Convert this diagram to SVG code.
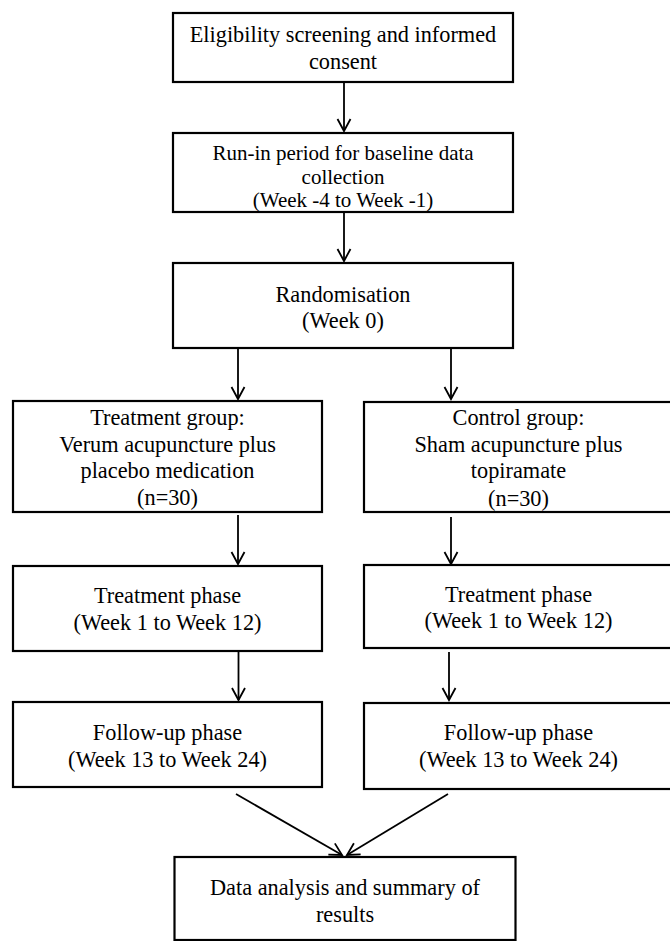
<svg xmlns="http://www.w3.org/2000/svg" width="670" height="941" viewBox="0 0 670 941">
<style>
.box{fill:#fff;stroke:#000;stroke-width:2.2}
.t{font-family:"Liberation Serif","Times New Roman","DejaVu Serif",serif;font-size:22.3px;fill:#000;text-anchor:middle}
.s{font-size:21px}
.c{stroke:#000;stroke-width:1.8;fill:none}
</style>
<defs>
<marker id="ah" viewBox="-14 -8 16 16" refX="0" refY="0" markerWidth="16" markerHeight="16" markerUnits="userSpaceOnUse" orient="auto">
<path d="M-12,-6.5 L0,0 L-12,6.5" fill="none" stroke="#000" stroke-width="1.8"/>
</marker>
</defs>
<rect width="670" height="941" fill="#fff"/>
<g id="connectors">
<line class="c" x1="344" y1="82" x2="344" y2="131" marker-end="url(#ah)"/>
<line class="c" x1="344" y1="212" x2="344" y2="261" marker-end="url(#ah)"/>
<line class="c" x1="238" y1="348" x2="238" y2="399" marker-end="url(#ah)"/>
<line class="c" x1="451" y1="348" x2="451" y2="399" marker-end="url(#ah)"/>
<line class="c" x1="238" y1="515" x2="238" y2="564" marker-end="url(#ah)"/>
<line class="c" x1="451" y1="517" x2="451" y2="564" marker-end="url(#ah)"/>
<line class="c" x1="238.5" y1="651" x2="238.5" y2="700" marker-end="url(#ah)"/>
<line class="c" x1="449" y1="652" x2="449" y2="700" marker-end="url(#ah)"/>
<line class="c" x1="236" y1="794" x2="342" y2="855" marker-end="url(#ah)"/>
<line class="c" x1="448" y1="794" x2="347" y2="855" marker-end="url(#ah)"/>
</g>
<g id="n1">
<rect class="box" x="173" y="13" width="340" height="69"/>
<text class="t" x="343" y="42">Eligibility screening and informed</text>
<text class="t" x="343" y="69">consent</text>
</g>
<g id="n2">
<rect class="box" x="173" y="133" width="340" height="79"/>
<text class="t s" x="343" y="160">Run-in period for baseline data</text>
<text class="t s" x="343" y="183.5">collection</text>
<text class="t s" x="343" y="207">(Week -4 to Week -1)</text>
</g>
<g id="n3">
<rect class="box" x="173" y="263" width="340" height="85"/>
<text class="t" x="343" y="302">Randomisation</text>
<text class="t" x="343" y="328">(Week 0)</text>
</g>
<g id="n4">
<rect class="box" x="13" y="401" width="309" height="111"/>
<text class="t" x="167.5" y="425">Treatment group:</text>
<text class="t" x="167.5" y="452">Verum acupuncture plus</text>
<text class="t" x="167.5" y="478">placebo medication</text>
<text class="t" x="167.5" y="505">(n=30)</text>
</g>
<g id="n5">
<rect class="box" x="364" y="402" width="310" height="110"/>
<text class="t" x="518.5" y="425">Control group:</text>
<text class="t" x="518.5" y="452">Sham acupuncture plus</text>
<text class="t" x="518.5" y="478">topiramate</text>
<text class="t" x="518.5" y="506">(n=30)</text>
</g>
<g id="n6">
<rect class="box" x="13" y="566" width="309" height="85"/>
<text class="t" x="167.5" y="603">Treatment phase</text>
<text class="t" x="167.5" y="630">(Week 1 to Week 12)</text>
</g>
<g id="n7">
<rect class="box" x="364" y="565" width="310" height="83"/>
<text class="t" x="518.5" y="602">Treatment phase</text>
<text class="t" x="518.5" y="628">(Week 1 to Week 12)</text>
</g>
<g id="n8">
<rect class="box" x="13" y="702" width="309" height="85"/>
<text class="t" x="167.5" y="740">Follow-up phase</text>
<text class="t" x="167.5" y="767">(Week 13 to Week 24)</text>
</g>
<g id="n9">
<rect class="box" x="364" y="703" width="310" height="86"/>
<text class="t" x="518.5" y="740">Follow-up phase</text>
<text class="t" x="518.5" y="767">(Week 13 to Week 24)</text>
</g>
<g id="n10">
<rect class="box" x="174.5" y="857" width="341" height="83"/>
<text class="t" x="345" y="895">Data analysis and summary of</text>
<text class="t" x="345" y="922">results</text>
</g>
</svg>
